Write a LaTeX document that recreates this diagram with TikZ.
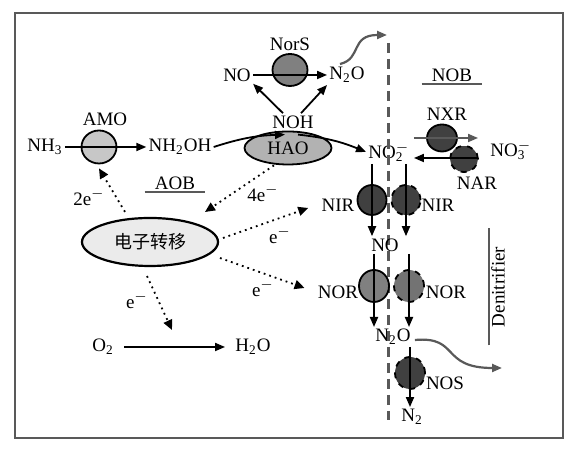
\documentclass[tikz,border=0pt]{standalone}
\usepackage{fontspec}
\setmainfont{Liberation Serif}
\newfontfamily\cjk{Noto Sans CJK SC}
\usepackage{tikz}
\usetikzlibrary{shapes.geometric,arrows.meta,positioning,calc}

\definecolor{amocol}{gray}{0.78}
\definecolor{haocol}{gray}{0.70}
\definecolor{midcol}{gray}{0.50}
\definecolor{darkcol}{gray}{0.25}
\definecolor{etcol}{gray}{0.92}
\definecolor{framecol}{gray}{0.35}
\newcommand{\ionsub}[2]{\rlap{\textsuperscript{#2}}\textsubscript{#1}}
\newcommand{\elec}{e\textsuperscript{$-$}}

\tikzset{
  flow/.style={-{Triangle[length=5pt,width=4pt]},line width=0.9pt},
  etrans/.style={-{Triangle[length=5pt,width=4.5pt]},line width=0.9pt,dotted},
  gasout/.style={-{Triangle[length=5pt,width=4pt]},line width=1.1pt,draw=framecol},
  enz/.style={ellipse,draw,line width=0.9pt,inner sep=0pt},
  dashenz/.style={enz,dashed},
  lbl/.style={font=\fontsize{9.5}{10}\selectfont,inner sep=1pt},
  bar/.style={line width=1.2pt,draw=framecol}
}

\begin{document}
\begin{tikzpicture}[x=0.5pt,y=0.5pt]
\useasboundingbox (0,0) rectangle (584,453);
\draw[framecol,line width=1pt] (15,15) rectangle (563,440);

% AOB side
\node[enz,fill=amocol,minimum width=17.5pt,minimum height=16.5pt] (amo) at (99,306) {};
\node[lbl] (amol) at (105,334) {AMO};
\node[lbl] (nh3) at (45,306) {NH\textsubscript{3}};
\node[lbl] (nh2oh) at (180,306) {NH\textsubscript{2}OH};
\node[enz,fill=haocol,minimum width=43.5pt,minimum height=16.5pt,font=\fontsize{9.5}{10}\selectfont] (hao) at (288,305) {\raisebox{-2pt}{HAO}};
\node[lbl] (noh) at (293,331) {NOH};
\node[lbl] (noup) at (237,378) {NO};
\node[lbl] (n2oup) at (347,378) {N\textsubscript{2}O};
\node[enz,fill=midcol,minimum width=17.5pt,minimum height=16pt] (nors) at (290,383) {};
\node[lbl] (norsl) at (290,409) {NorS};
\node[lbl] (aob) at (175,270) {AOB};
\node[lbl] (no2) at (386,301) {NO\ionsub{2}{$-$}};

\draw[flow] (nh3) -- (nh2oh);
\draw[flow] (noup) -- (n2oup);
\draw[flow] ([xshift=-5pt]noh.north) -- (noup.south east);
\draw[flow] ([xshift=4pt]noh.north) -- (n2oup.south west);
\draw[flow] (nh2oh.east) to[bend left=8] ($(hao.north)+(-3,-4)$);
\draw[flow] ($(hao.north)+(10,-4)$) to[bend left=8] (no2.west);
\draw[bar] ([xshift=-4pt]aob.south west) -- ([xshift=4pt]aob.south east);

% NOB side
\node[enz,fill=darkcol,minimum width=15pt,minimum height=13.5pt] (nxr) at (442,315) {};
\node[dashenz,fill=darkcol,minimum width=14pt,minimum height=13pt] (nar) at (464,294) {};
\node[lbl] (nxrl) at (447,339) {NXR};
\node[lbl] (narl) at (477,270) {NAR};
\node[lbl] (no3) at (508,303) {NO\ionsub{3}{$-$}};
\node[lbl] (nob) at (452,378) {NOB};
\draw[flow,draw=framecol] ($(no2.east)+(8,14)$) -- ($(no3.west)+(-10,12)$);
\draw[flow] ($(no3.west)+(-10,-8)$) -- ($(no2.east)+(8,-6)$);
\draw[bar] ([xshift=-4pt]nob.south west) -- ([xshift=4pt]nob.south east);

% denitrification
\draw[framecol,line width=1.5pt,dash pattern=on 5pt off 3pt] (388,410) -- (388,33);
\node[enz,fill=darkcol,minimum width=14.5pt,minimum height=15pt] (nirl) at (372,253) {};
\node[dashenz,fill=darkcol,minimum width=14.5pt,minimum height=15pt] (nirr) at (406,253) {};
\node[lbl] (nirll) at (338,248) {NIR};
\node[lbl] (nirrl) at (438,248) {NIR};
\node[lbl] (no) at (385,208) {NO};
\node[enz,fill=midcol,minimum width=15pt,minimum height=16pt] (norl) at (374,167) {};
\node[dashenz,fill=midcol!110,minimum width=15pt,minimum height=16pt] (norr) at (409,167) {};
\node[lbl] (norll) at (338,161) {NOR};
\node[lbl] (norrl) at (446,161) {NOR};
\node[lbl] (n2o) at (393,116) {N\textsubscript{2}O};
\node[dashenz,fill=darkcol,minimum width=15pt,minimum height=16pt] (nos) at (410,80) {};
\node[lbl] (nosl) at (445,70) {NOS};
\node[lbl] (n2) at (412,36) {N\textsubscript{2}};
\node[lbl,rotate=90] (denit) at (498,166) {Denitrifier};

\draw[flow] (nirl |- no2.south) -- (nirl |- no.north);
\draw[flow] (nirr |- no2.south) -- (nirr |- no.north);
\draw[flow] (norl |- no.south) -- (norl |- n2o.north);
\draw[flow] (norr |- no.south) -- (norr |- n2o.north);
\draw[flow] (nos |- n2o.south) -- (nos |- n2.north);
\draw[bar] ([yshift=-8pt]denit.north west) -- ([yshift=8pt]denit.north east);

% N2O release
\coordinate (gasa) at (387,418);
\coordinate (gasb) at (502,85);
\draw[gasout] ($(n2oup.north)+(-7,1)$) .. controls (362,394) and (350,418) .. (gasa);
\draw[gasout] ($(n2o.east)+(2,-3)$) .. controls (460,117) and (440,85) .. (gasb);

% electron transfer
\node[enz,fill=etcol,line width=1.1pt,minimum width=68pt,minimum height=24pt,font=\cjk\fontsize{9}{10}\selectfont] (et) at (150,211) {电子转移};
\node[lbl] (e2) at (89,256) {2\elec};
\node[lbl] (e4) at (263,260) {4\elec};
\node[lbl] (enir) at (280,218) {\elec};
\node[lbl] (enor) at (263,165) {\elec};
\node[lbl] (eo2) at (137,153) {\elec};
\node[lbl] (o2) at (103,106) {O\textsubscript{2}};
\node[lbl] (h2o) at (253,106) {H\textsubscript{2}O};
\coordinate (ox) at (172,123);

\draw[etrans] ($(et.north)+(-25,5)$) -- ([yshift=-2pt]amo.south);
\draw[etrans] ([xshift=-7pt]hao.south) -- ($(et.center)+(55,30)$);
\draw[etrans] ($(et.center)+(73,4)$) -- ($(nirll.west)+(-11,-3)$);
\draw[etrans] ($(et.center)+(70,-16)$) -- ($(norll.west)+(-11,4)$);
\draw[etrans] ($(et.south)+(-3,-9)$) -- (ox);
\draw[flow] ([xshift=4pt]o2.east) -- ([xshift=-4pt]h2o.west);
\end{tikzpicture}
\end{document}
